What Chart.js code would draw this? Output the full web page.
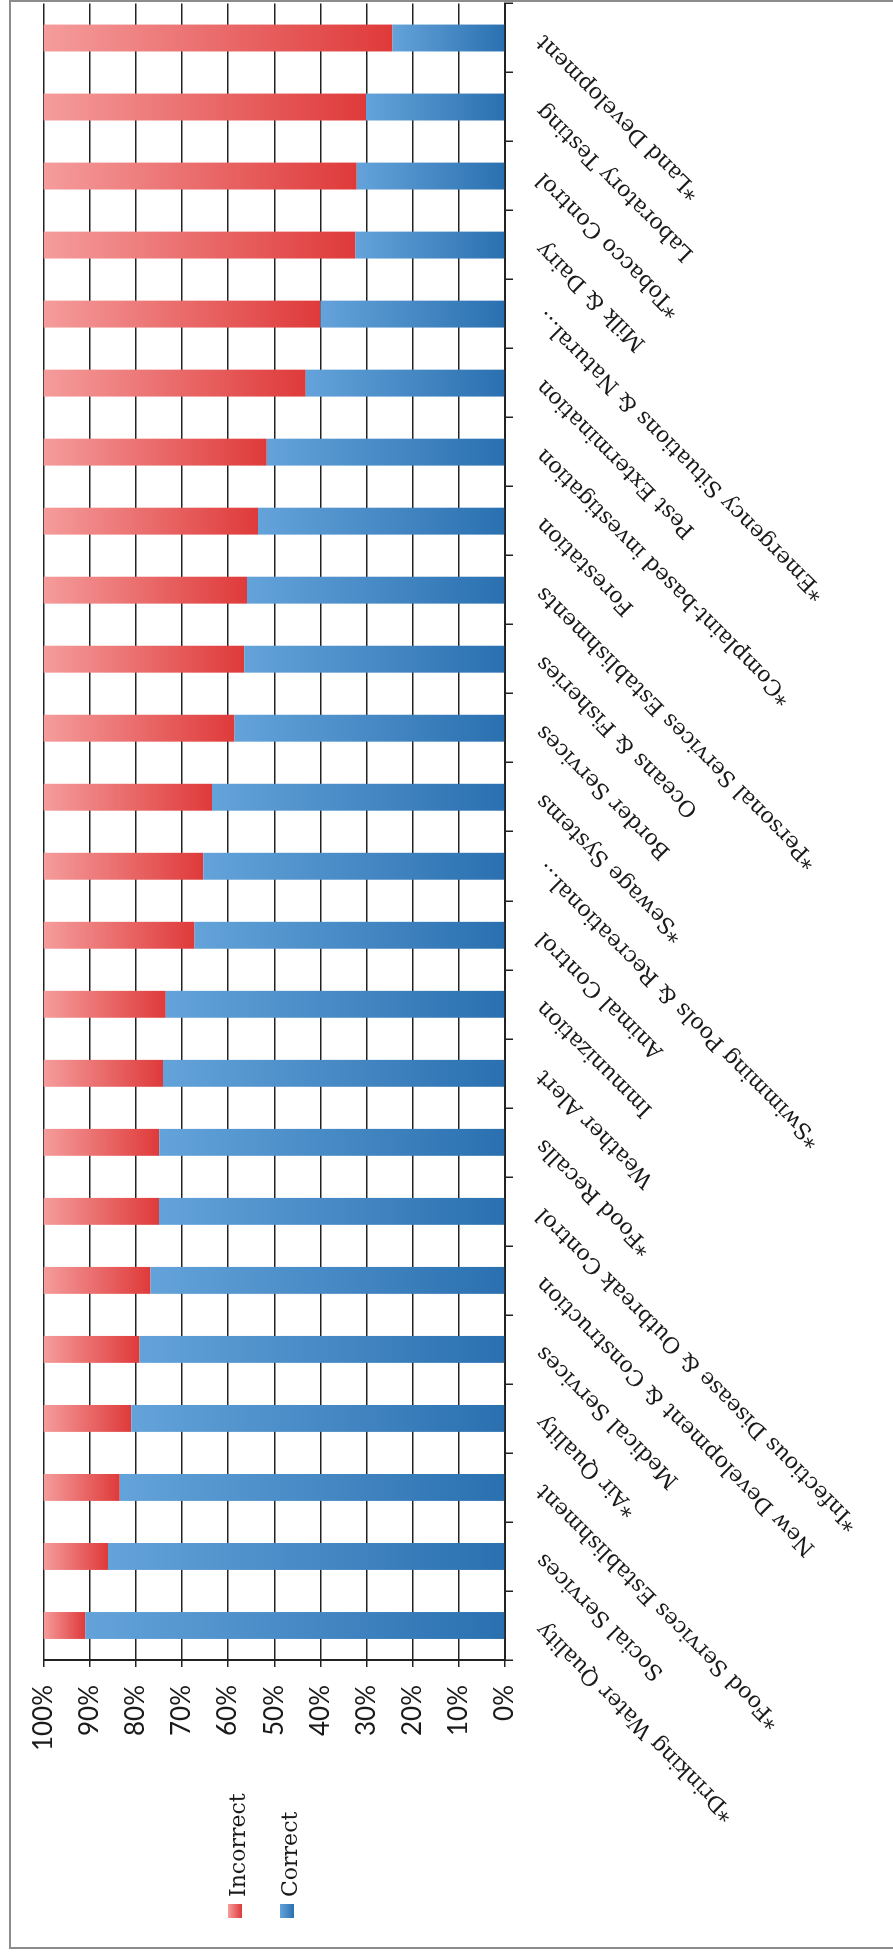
<!DOCTYPE html>
<html>
<head>
<meta charset="utf-8">
<script src="https://cdn.jsdelivr.net/npm/chart.js@4.4.1/dist/chart.umd.min.js"></script>
<style>
  html, body { margin: 0; padding: 0; background: #fff; }
  #page { position: relative; width: 893px; height: 1954px; overflow: hidden; background: #fff; }
  #frame { position: absolute; left: 9px; top: 0; width: 900px; height: 1945px;
           border: 2px solid #8c8c8c; border-right: none; }
  /* the chart is laid out as a column chart and turned a quarter turn counter-clockwise */
  #turn { position: absolute; left: 0; top: 0; width: 1954px; height: 893px;
          transform-origin: 0 0; transform: translateY(1954px) rotate(-90deg); }
</style>
</head>
<body>
<div id="page">
  <div id="frame"></div>
  <div id="turn"><canvas id="chart" width="1954" height="893"></canvas></div>
</div>
<script>
// Program areas, in axis order
const categories = [
  '*Drinking Water Quality',
  'Social Services',
  '*Food Services Establishment',
  '*Air Quality',
  'Medical Services',
  'New Development & Construction',
  '*Infectious Disease & Outbreak Control',
  '*Food Recalls',
  'Weather Alert',
  'Immunization',
  'Animal Control',
  '*Swimming Pools & Recreational...',
  '*Sewage Systems',
  'Border Services',
  'Oceans & Fisheries',
  '*Personal Services Establishments',
  'Forestation',
  '*Complaint-based investigation',
  'Pest Extermination',
  '*Emergency Situations & Natural...',
  'Milk & Dairy',
  '*Tobacco Control',
  'Laboratory Testing',
  '*Land Development'
];

// Share of answers (%)
const correctPct = [
  90.9, 86.0, 83.5, 81.0, 79.2, 76.8, 75.0, 74.9, 74.1, 73.5, 67.3, 65.4,
  63.5, 58.6, 56.5, 55.9, 53.5, 51.6, 43.2, 40.0, 32.4, 32.1, 30.1, 24.4
];
const incorrectPct = [
  9.1, 14.0, 16.5, 19.0, 20.8, 23.2, 25.0, 25.1, 25.9, 26.5, 32.7, 34.6,
  36.5, 41.4, 43.5, 44.1, 46.5, 48.4, 56.8, 60.0, 67.6, 67.9, 69.9, 75.6
];

const seriesNames = ['Correct', 'Incorrect'];
const percentLabels = ['0%', '10%', '20%', '30%', '40%', '50%', '60%', '70%', '80%', '90%', '100%'];

const palette = {
  Correct:   { light: '#64a3da', dark: '#2a70b0' },
  Incorrect: { light: '#f59c9c', dark: '#df3a3a' }
};

// each stacked segment gets its own top-to-bottom gradient
function segmentFill(light, dark) {
  return (ctx) => {
    const chart = ctx.chart;
    const y = chart.scales && chart.scales.y;
    if (!chart.chartArea || !y || ctx.type !== 'data') return dark;
    const i = ctx.dataIndex;
    const lower = ctx.datasetIndex === 0 ? 0 : correctPct[i];
    const upper = lower + ctx.dataset.data[i];
    const g = chart.ctx.createLinearGradient(0, y.getPixelForValue(upper), 0, y.getPixelForValue(lower));
    g.addColorStop(0, light);
    g.addColorStop(1, dark);
    return g;
  };
}

// legend drawn to the left of the value axis
const sideLegend = {
  id: 'sideLegend',
  afterDraw(chart) {
    const c = chart.ctx;
    const rows = [
      { name: seriesNames[1], top: 228, base: 245 },
      { name: seriesNames[0], top: 280, base: 297 }
    ];
    c.save();
    rows.forEach(r => {
      const p = palette[r.name];
      const g = c.createLinearGradient(0, r.top, 0, r.top + 14);
      g.addColorStop(0, p.light);
      g.addColorStop(1, p.dark);
      c.fillStyle = g;
      c.fillRect(36, r.top, 14, 14);
      c.fillStyle = '#1a1a1a';
      c.font = '22px "DejaVu Serif"';
      c.textBaseline = 'alphabetic';
      c.textAlign = 'left';
      c.fillText(r.name, 57, r.base);
    });
    c.restore();
  }
};

new Chart(document.getElementById('chart'), {
  type: 'bar',
  data: {
    labels: categories,
    datasets: [
      {
        label: seriesNames[0],
        data: correctPct,
        backgroundColor: segmentFill(palette.Correct.light, palette.Correct.dark),
        borderWidth: 0,
        categoryPercentage: 0.39,
        barPercentage: 1
      },
      {
        label: seriesNames[1],
        data: incorrectPct,
        backgroundColor: segmentFill(palette.Incorrect.light, palette.Incorrect.dark),
        borderWidth: 0,
        categoryPercentage: 0.39,
        barPercentage: 1
      }
    ]
  },
  options: {
    responsive: false,
    devicePixelRatio: 1,
    animation: false,
    layout: { padding: { left: 0, right: 3.5, top: 43.5, bottom: 0 } },
    plugins: { legend: { display: false }, tooltip: { enabled: false } },
    scales: {
      x: {
        stacked: true,
        offset: true,
        grid: { offset: true, drawOnChartArea: false, drawTicks: true, tickLength: 8, color: '#222', lineWidth: 1.5 },
        border: { display: true, color: '#222', width: 2 },
        ticks: {
          autoSkip: false, maxRotation: 45, minRotation: 45, padding: 18,
          color: '#1a1a1a', font: { family: 'DejaVu Serif', size: 22 }
        },
        afterFit: (s) => { s.height = 388; }
      },
      y: {
        stacked: true,
        min: 0,
        max: 100,
        grid: { color: '#222', lineWidth: 1.5, tickLength: 7 },
        border: { display: true, color: '#222', width: 2 },
        ticks: {
          stepSize: 10, padding: 18, color: '#1a1a1a',
          font: { family: 'Lato', size: 26 },
          callback: (v) => percentLabels[Math.round(v / 10)]
        },
        afterFit: (s) => { s.width = 294; }
      }
    }
  },
  plugins: [sideLegend]
});
</script>
</body>
</html>
